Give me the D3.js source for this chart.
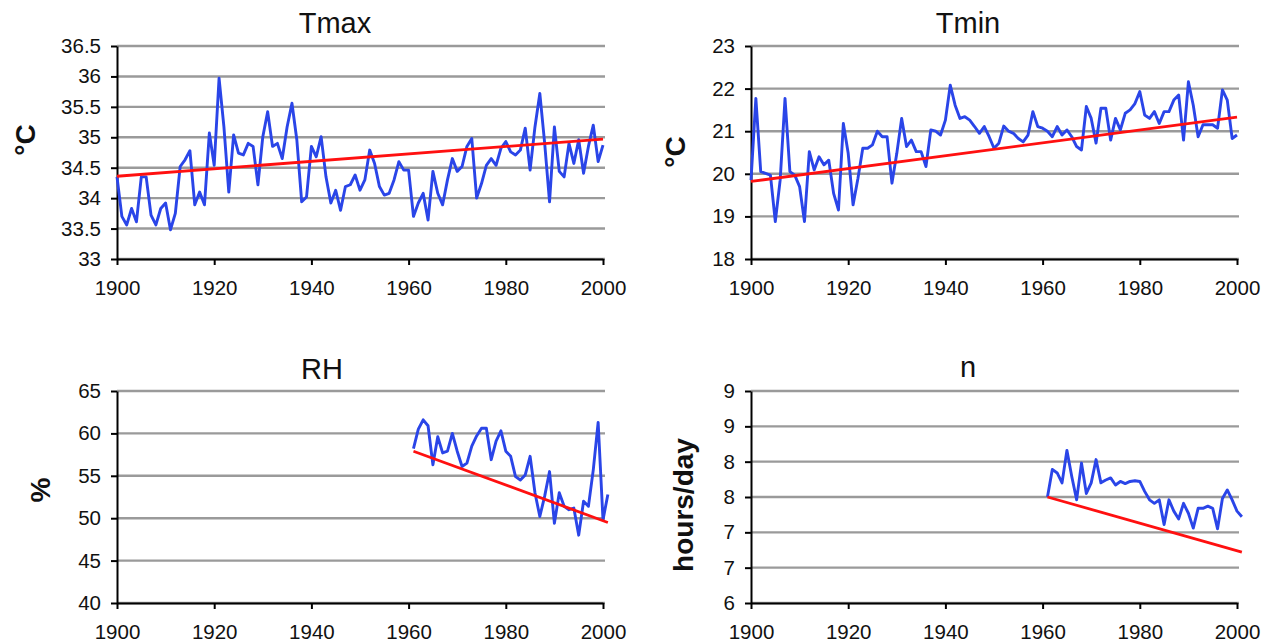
<!DOCTYPE html>
<html><head><meta charset="utf-8">
<script src="https://cdn.jsdelivr.net/npm/d3@7"></script>
<style>body{margin:0;background:#fff}svg{display:block}</style>
</head><body>
<script>
// ---------- DATA ----------
const yearsLong = d3.range(1900, 2001);
const yearsShort = d3.range(1961, 2002);
const tmax = [34.35,33.7,33.56,33.83,33.61,34.35,34.35,33.72,33.56,33.83,33.92,33.48,33.75,34.52,34.63,34.78,33.89,34.1,33.89,35.07,
34.54,35.97,35.17,34.1,35.04,34.74,34.71,34.9,34.85,34.22,35.01,35.42,34.85,34.9,34.65,35.17,35.56,34.96,33.94,34.02,
34.85,34.68,35.01,34.35,33.92,34.13,33.8,34.19,34.22,34.38,34.13,34.3,34.79,34.57,34.19,34.05,34.08,34.3,34.6,34.46,
34.46,33.7,33.92,34.08,33.64,34.44,34.08,33.89,34.3,34.65,34.44,34.52,34.85,34.98,34.0,34.24,34.54,34.65,34.54,34.82,
34.93,34.76,34.71,34.79,35.15,34.46,35.17,35.72,34.9,33.94,35.17,34.44,34.35,34.9,34.57,34.96,34.41,34.85,35.2,34.6,34.87];
const tmaxTrend = [34.36, 34.97];
const tmin = [19.85,21.77,20.05,20.01,19.97,18.88,19.85,21.77,20.05,19.97,19.7,18.88,20.52,20.09,20.4,20.21,20.32,19.54,19.15,21.18,
20.48,19.27,19.89,20.6,20.6,20.68,21.0,20.87,20.87,19.78,20.48,21.3,20.64,20.79,20.52,20.52,20.17,21.03,21.0,20.91,
21.26,22.08,21.61,21.3,21.34,21.26,21.11,20.95,21.11,20.87,20.6,20.72,21.12,21.0,20.95,20.83,20.75,20.91,21.46,21.11,
21.07,21.0,20.87,21.11,20.91,21.03,20.87,20.64,20.56,21.58,21.3,20.72,21.54,21.54,20.79,21.3,21.03,21.42,21.5,21.65,
21.93,21.38,21.3,21.46,21.18,21.46,21.46,21.73,21.85,20.79,22.16,21.61,20.87,21.15,21.15,21.15,21.07,21.97,21.73,20.83,20.91];
const tminTrend = [19.82, 21.33];
const rh = [58.2,60.5,61.6,60.9,56.3,59.6,57.7,57.9,60.0,57.9,56.1,56.5,58.5,59.7,60.6,60.6,56.9,59.1,60.3,57.9,
57.3,54.9,54.5,55.1,57.3,53.0,50.2,52.6,55.5,49.4,53.0,51.4,51.0,51.2,48.0,52.0,51.4,55.7,61.3,49.8,52.8];
const rhTrend = [57.9, 49.5];
const sun = [7.5,7.89,7.84,7.7,8.16,7.79,7.46,7.98,7.55,7.7,8.03,7.7,7.74,7.77,7.67,7.72,7.69,7.72,7.73,7.72,
7.58,7.46,7.41,7.46,7.11,7.46,7.3,7.19,7.41,7.27,7.06,7.34,7.34,7.37,7.34,7.05,7.48,7.6,7.46,7.3,7.22];
const sunTrend = [7.5, 6.72];
const xTicks = [1900, 1920, 1940, 1960, 1980, 2000];
const tmaxTicks = [33, 33.5, 34, 34.5, 35, 35.5, 36, 36.5];
const tminTicks = [18, 19, 20, 21, 22, 23];
const rhTicks = [40, 45, 50, 55, 60, 65];
const sunTicks = [6, 6.5, 7, 7.5, 8, 8.5, 9];
const titles = ["Tmax", "Tmin", "RH", "n"];
const yLabels = ["°C", "°C", "%", "hours/day"];

// ---------- LAYOUT ----------
const W = 1268, H = 643;
const svg = d3.select("body").append("svg").attr("width", W).attr("height", H);
const font = "Liberation Sans, Arial, sans-serif";

const panels = [
  {title: titles[0], ylab: yLabels[0], years: yearsLong, vals: tmax, trend: tmaxTrend, ticks: tmaxTicks,
   fmt: d => (d % 1 ? d.toFixed(1) : String(d)), x0: 117, x1: 603, y0: 46, y1: 259,
   tx: 335, ty: 33, lx: 25, ly: 140},
  {title: titles[1], ylab: yLabels[1], years: yearsLong, vals: tmin, trend: tminTrend, ticks: tminTicks,
   fmt: d => String(d), x0: 751, x1: 1237, y0: 46, y1: 259,
   tx: 968, ty: 33, lx: 675, ly: 152},
  {title: titles[2], ylab: yLabels[2], years: yearsShort, vals: rh, trend: rhTrend, ticks: rhTicks,
   fmt: d => String(d), x0: 117, x1: 603, y0: 391, y1: 603,
   tx: 322, ty: 379, lx: 40, ly: 490},
  {title: titles[3], ylab: yLabels[3], years: yearsShort, vals: sun, trend: sunTrend, ticks: sunTicks,
   fmt: d => String(Math.round(d)), x0: 751, x1: 1237, y0: 391, y1: 603,
   tx: 968, ty: 377, lx: 683, ly: 505}
];

panels.forEach(p => {
  const x = d3.scaleLinear().domain([1900, 2000]).range([p.x0, p.x1]);
  const y = d3.scaleLinear().domain(d3.extent(p.ticks)).range([p.y1, p.y0]);
  const g = svg.append("g");

  // gridlines
  g.selectAll(".grid").data(p.ticks).join("line")
    .attr("x1", p.x0).attr("x2", p.x1 + 2)
    .attr("y1", d => y(d)).attr("y2", d => y(d))
    .attr("stroke", "#9a9a9a").attr("stroke-width", 2.4);

  // axes
  const ya = g.append("g").attr("transform", `translate(${p.x0},0)`)
    .call(d3.axisLeft(y).tickValues(p.ticks).tickFormat(p.fmt).tickSize(6).tickSizeOuter(0).tickPadding(10));
  const xa = g.append("g").attr("transform", `translate(0,${p.y1})`)
    .call(d3.axisBottom(x).tickValues(xTicks).tickFormat(d3.format("d")).tickSize(6).tickSizeOuter(0).tickPadding(15));
  [ya, xa].forEach(a => {
    a.select(".domain").attr("stroke", "#000").attr("stroke-width", 2);
    a.selectAll(".tick line").attr("stroke", "#000").attr("stroke-width", 2);
    a.selectAll("text").attr("font-family", font).attr("font-size", 20.5).attr("fill", "#111");
  });

  // series
  const line = d3.line().x((d, i) => x(p.years[i])).y(d => y(d));
  g.append("path").datum(p.vals).attr("d", line)
    .attr("fill", "none").attr("stroke", "#2a45e8").attr("stroke-width", 2.9)
    .attr("stroke-linejoin", "round");

  // trend
  const ty = [p.years[0], p.years[p.years.length - 1]];
  g.append("line")
    .attr("x1", x(ty[0])).attr("y1", y(p.trend[0]))
    .attr("x2", x(ty[1])).attr("y2", y(p.trend[1]))
    .attr("stroke", "#ff1010").attr("stroke-width", 2.8);

  // title
  svg.append("text").attr("x", p.tx).attr("y", p.ty).attr("text-anchor", "middle")
    .attr("font-family", font).attr("font-size", 29).attr("fill", "#111").text(p.title);
  // y label
  svg.append("text").attr("transform", `translate(${p.lx},${p.ly}) rotate(-90)`)
    .attr("text-anchor", "middle").attr("dominant-baseline", "central")
    .attr("font-family", font).attr("font-size", 28).attr("font-weight", "bold").attr("fill", "#111").text(p.ylab);
});
</script>
</body></html>
